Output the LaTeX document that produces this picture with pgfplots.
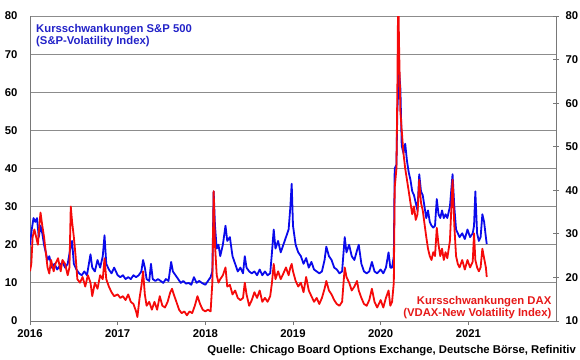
\documentclass[border=0pt]{standalone}
\usepackage{pgfplots}
\pgfplotsset{compat=1.18}
\usepackage{fontspec}
\setmainfont{Liberation Sans}
\definecolor{vixblue}{RGB}{10,10,235}
\definecolor{vdaxred}{RGB}{245,10,10}
\definecolor{txtblue}{RGB}{35,35,200}
\definecolor{txtred}{RGB}{230,25,25}
\definecolor{gridgray}{RGB}{140,140,140}
\definecolor{axgray}{RGB}{120,120,120}
\begin{document}
\begin{tikzpicture}
\useasboundingbox (0,0) rectangle (580pt,359pt);
\begin{axis}[
  at={(30pt,38pt)}, anchor=south west,
  scale only axis, width=526pt, height=305pt,
  xmin=2016, xmax=2022, ymin=0, ymax=80,
  axis x line*=bottom, axis y line*=left,
  axis line style={draw=axgray, line width=1pt},
  xtick={2016,2017,2018,2019,2020,2021},
  xticklabels={2016,2017,2018,2019,2020,2021},
  ytick={0,10,...,80},
  ymajorgrids, grid style={draw=gridgray, line width=1pt},
  ytick style={draw=none},
  xtick style={draw=axgray, line width=1pt},
  tick align=outside, major tick length=4pt,
  /pgf/number format/assume math mode=true,
  ticklabel style={font=\fontsize{11.3}{13}\selectfont\bfseries},
  yticklabel style={xshift=-5pt},
  xticklabel style={yshift=-1pt},
  clip=true,
]
\addplot[vixblue, line width=1.8pt, line join=round] coordinates {
(2016.00,20) (2016.02,24) (2016.04,27) (2016.06,26) (2016.08,27) (2016.10,22) (2016.12,25) (2016.14,23)
(2016.16,20) (2016.18,18) (2016.20,16) (2016.22,17) (2016.25,14) (2016.28,15) (2016.31,13.5) (2016.34,14.5)
(2016.37,15.5) (2016.40,14) (2016.43,15) (2016.46,19) (2016.48,21) (2016.50,15) (2016.53,13.5) (2016.56,12.5)
(2016.59,12) (2016.62,13) (2016.65,12) (2016.69,17.5) (2016.71,14) (2016.74,13) (2016.77,16) (2016.80,14)
(2016.83,17) (2016.85,22.5) (2016.87,15) (2016.90,13.5) (2016.93,12.5) (2016.96,14) (2017.00,12) (2017.03,11.5)
(2017.06,12) (2017.09,11) (2017.12,11.5) (2017.15,11) (2017.18,12) (2017.21,11.5) (2017.24,12) (2017.27,13)
(2017.29,16) (2017.31,14) (2017.33,11) (2017.36,10.5) (2017.38,15) (2017.40,11) (2017.43,10.5) (2017.46,11)
(2017.49,10.5) (2017.52,10) (2017.55,11) (2017.58,10.5) (2017.61,15.5) (2017.63,13) (2017.66,12) (2017.69,11)
(2017.72,10) (2017.75,10.5) (2017.78,9.8) (2017.81,10) (2017.84,9.5) (2017.87,11.5) (2017.90,10) (2017.93,10.5)
(2017.96,10) (2018.00,9.5) (2018.03,10.5) (2018.06,11.5) (2018.08,13) (2018.095,34) (2018.11,25) (2018.13,19)
(2018.15,20) (2018.17,17) (2018.20,20) (2018.23,25) (2018.25,21) (2018.28,22) (2018.31,17) (2018.34,15)
(2018.37,13) (2018.40,14) (2018.43,12.5) (2018.45,17) (2018.47,14) (2018.50,13) (2018.53,12.5) (2018.56,13)
(2018.59,12) (2018.62,13.5) (2018.65,12) (2018.68,13) (2018.71,12) (2018.74,12.5) (2018.76,18) (2018.78,24)
(2018.80,19) (2018.83,21) (2018.86,18) (2018.89,20) (2018.92,22) (2018.95,24) (2018.97,30) (2018.985,36)
(2019.00,25) (2019.03,20) (2019.06,18) (2019.09,17) (2019.12,15) (2019.15,16.5) (2019.18,14) (2019.21,15.5)
(2019.24,13.5) (2019.27,13) (2019.30,12.5) (2019.33,13) (2019.36,16) (2019.38,19.5) (2019.41,17) (2019.44,16)
(2019.47,14) (2019.50,13.5) (2019.53,12.5) (2019.56,13) (2019.59,22) (2019.61,18) (2019.64,20) (2019.67,17)
(2019.70,16) (2019.73,18.5) (2019.75,20) (2019.78,15) (2019.81,13) (2019.84,12.5) (2019.87,13) (2019.90,15.5)
(2019.93,13) (2019.96,12.5) (2020.00,13.5) (2020.03,12.5) (2020.06,14) (2020.09,18) (2020.11,14) (2020.13,14)
(2020.15,17) (2020.16,40) (2020.18,41) (2020.19,55) (2020.21,65.5) (2020.225,61) (2020.24,46) (2020.26,44)
(2020.28,46.5) (2020.30,42) (2020.32,39) (2020.34,37) (2020.36,34) (2020.38,33) (2020.40,31) (2020.42,29)
(2020.44,38.5) (2020.46,34) (2020.48,33) (2020.50,30) (2020.52,27) (2020.54,29) (2020.56,26) (2020.58,25)
(2020.60,24.5) (2020.62,25) (2020.64,32) (2020.66,28) (2020.68,27) (2020.70,29) (2020.72,27) (2020.74,28)
(2020.76,27) (2020.79,30) (2020.82,38.5) (2020.84,30) (2020.86,24) (2020.88,23) (2020.90,22) (2020.93,23)
(2020.96,21.5) (2020.99,24) (2021.02,22) (2021.05,23) (2021.065,25) (2021.08,34) (2021.10,23) (2021.12,21)
(2021.14,22) (2021.16,28) (2021.18,26) (2021.20,22) (2021.21,20.2)
};
\end{axis}
\begin{axis}[
  at={(30pt,38pt)}, anchor=south west,
  scale only axis, width=526pt, height=305pt,
  xmin=2016, xmax=2022, ymin=10, ymax=80,
  hide x axis,
  axis y line*=right,
  axis line style={draw=axgray, line width=1pt},
  ytick={10,20,...,80},
  ytick style={draw=axgray, line width=1pt},
  tick align=center, major tick length=6pt,
  /pgf/number format/assume math mode=true,
  ticklabel style={font=\fontsize{11.3}{13}\selectfont\bfseries},
  yticklabel style={xshift=3pt},
  clip=true,
]
\addplot[vdaxred, line width=1.8pt, line join=round] coordinates {
(2016.00,21.4) (2016.015,23.1) (2016.03,29.3) (2016.05,31) (2016.07,29.3) (2016.09,27.5) (2016.11,32.8) (2016.12,34.9)
(2016.14,31.9) (2016.16,29.3) (2016.18,25.8) (2016.20,22.3) (2016.22,20.9) (2016.24,24) (2016.27,21.4) (2016.29,23.1)
(2016.32,24.4) (2016.35,21.4) (2016.37,24) (2016.40,23.1) (2016.43,20.5) (2016.45,22.3) (2016.465,36.3) (2016.48,32.8)
(2016.50,29.3) (2016.52,24.9) (2016.54,19.6) (2016.57,18.8) (2016.60,20.1) (2016.63,17.9) (2016.66,20.5) (2016.69,18.8)
(2016.71,15.7) (2016.74,18.8) (2016.77,17.4) (2016.80,20.5) (2016.83,19.6) (2016.85,24.4) (2016.87,19.6) (2016.90,17.9)
(2016.93,16.6) (2016.96,15.7) (2017.00,16.1) (2017.03,15.3) (2017.06,15.7) (2017.09,14.8) (2017.12,16.1) (2017.15,14.4)
(2017.18,13.9) (2017.21,12.2) (2017.225,10.9) (2017.25,15.3) (2017.27,17.9) (2017.29,21.4) (2017.31,16.1) (2017.33,13.5)
(2017.36,14.4) (2017.39,12.6) (2017.42,14.4) (2017.45,12.6) (2017.48,15.7) (2017.51,13.5) (2017.54,13.1) (2017.57,14.4)
(2017.60,16.6) (2017.62,17.4) (2017.64,16.1) (2017.67,14.4) (2017.70,12.6) (2017.73,11.8) (2017.76,12.2) (2017.79,11.3)
(2017.82,12.2) (2017.85,11.8) (2017.88,13.5) (2017.91,15.7) (2017.94,13.9) (2017.97,12.6) (2018.00,12.2) (2018.03,12.6)
(2018.06,12.2) (2018.08,18.8) (2018.095,39.8) (2018.11,27.5) (2018.13,20.5) (2018.15,18.8) (2018.17,19.6) (2018.20,20.5)
(2018.23,22.3) (2018.25,17.9) (2018.28,18.3) (2018.31,16.1) (2018.34,17) (2018.37,15.3) (2018.40,14.8) (2018.43,15.3)
(2018.45,18.8) (2018.47,16.1) (2018.50,13.5) (2018.53,14.8) (2018.56,16.6) (2018.59,15.3) (2018.62,17) (2018.65,14.4)
(2018.68,15.3) (2018.71,14.4) (2018.74,15.7) (2018.76,18.8) (2018.78,23.1) (2018.80,19.6) (2018.83,21.4) (2018.86,19.6)
(2018.89,20.9) (2018.92,22.3) (2018.95,20.5) (2018.97,22.3) (2018.985,23.1) (2019.00,21.4) (2019.03,19.2) (2019.06,17.9)
(2019.09,18.8) (2019.12,16.6) (2019.15,20.1) (2019.18,17) (2019.21,15.7) (2019.24,14.4) (2019.27,15.3) (2019.30,13.9)
(2019.33,15.3) (2019.36,17.4) (2019.38,19.2) (2019.41,17) (2019.44,16.1) (2019.47,14.8) (2019.50,13.9) (2019.53,13.5)
(2019.56,14.4) (2019.59,22.3) (2019.61,20.1) (2019.64,18.8) (2019.67,17) (2019.70,17.9) (2019.73,19.2) (2019.75,17)
(2019.78,15.3) (2019.81,13.9) (2019.84,13.5) (2019.87,14.8) (2019.90,17.4) (2019.93,14.4) (2019.96,13.1) (2020.00,14.8)
(2020.03,13.1) (2020.06,15.3) (2020.09,17) (2020.11,13.5) (2020.13,14.4) (2020.15,18.8) (2020.16,40.6) (2020.18,45)
(2020.19,62.5) (2020.20,86) (2020.21,73) (2020.225,58.1) (2020.24,53.8) (2020.26,48.5) (2020.28,45) (2020.30,42.4)
(2020.32,39.8) (2020.34,37.1) (2020.36,34.5) (2020.38,36.3) (2020.40,33.2) (2020.42,34.5) (2020.44,42.4) (2020.46,37.1)
(2020.48,35.4) (2020.50,32.3) (2020.52,29.3) (2020.54,26.6) (2020.56,24.9) (2020.58,24) (2020.60,25.8) (2020.62,24.9)
(2020.64,31.4) (2020.66,27.5) (2020.68,24.9) (2020.70,26.6) (2020.72,24) (2020.74,25.8) (2020.76,24.4) (2020.79,28.4)
(2020.82,42.4) (2020.84,31.9) (2020.86,24.9) (2020.88,23.1) (2020.90,22.3) (2020.93,24) (2020.96,21.8) (2020.99,24)
(2021.02,22.3) (2021.05,23.6) (2021.065,30.1) (2021.08,24) (2021.10,22.3) (2021.12,21.4) (2021.14,22.3) (2021.16,26.6)
(2021.18,24.4) (2021.20,22.3) (2021.21,20.1)
};
\end{axis}
\begin{scope}[font=\fontsize{11.3}{13}\selectfont\bfseries]
\node[anchor=base west, inner sep=0pt, text=txtblue] at (36pt,326.5pt) {Kursschwankungen S\&P 500};
\node[anchor=base west, inner sep=0pt, text=txtblue] at (36pt,314pt) {(S\&P-Volatility Index)};
\node[anchor=base east, inner sep=0pt, text=txtred] at (551.5pt,55pt) {Kursschwankungen DAX};
\node[anchor=base east, inner sep=0pt, text=txtred] at (551.5pt,42.5pt) {(VDAX-New Volatility Index)};
\node[anchor=base east, inner sep=0pt] at (576pt,6pt) {Quelle: Chicago Board Options Exchange, Deutsche Börse, Refinitiv};
\end{scope}
\end{tikzpicture}
\end{document}
